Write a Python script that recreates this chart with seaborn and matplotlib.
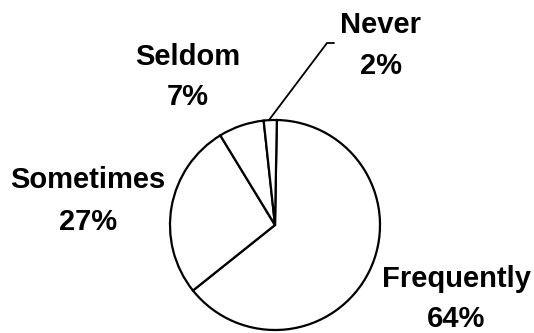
import matplotlib
matplotlib.use("Agg")
import matplotlib.pyplot as plt
import seaborn as sns

categories = ["Frequently", "Sometimes", "Seldom", "Never"]
percentages = [64, 27, 7, 2]

sns.set_theme(style="white")
plt.rcParams["font.family"] = ["Liberation Sans", "DejaVu Sans"]

H = 333
fig = plt.figure(figsize=(5.34, 3.33), dpi=100)
ax = fig.add_axes([0, 0, 1, 1])

ax.pie(percentages, startangle=89, counterclock=False, center=(275, H - 225), radius=105,
       colors=["white"] * len(percentages),
       wedgeprops=dict(edgecolor="black", linewidth=1.6), frame=True)
ax.set_xlim(0, 534)
ax.set_ylim(0, H)
ax.set_aspect("equal")
ax.axis("off")

# label anchor: (center x, baseline of name, baseline of percent) in image pixels
label_pos = {"Frequently": (456, 287, 327), "Sometimes": (88, 188, 230),
             "Seldom": (188, 65, 105), "Never": (381, 33, 74)}
for cat, p in zip(categories, percentages):
    x, y1, y2 = label_pos[cat]
    ax.text(x, H - y1, cat, ha="center", va="baseline", fontsize=21,
            fontweight="bold", color="black")
    ax.text(x, H - y2, f"{p}%", ha="center", va="baseline", fontsize=21,
            fontweight="bold", color="black")

# leader line for Never
ax.plot([269, 327, 334], [H - 120, H - 43, H - 43], color="black", linewidth=1.3)

fig.savefig("out.png", dpi=100, facecolor="white")
